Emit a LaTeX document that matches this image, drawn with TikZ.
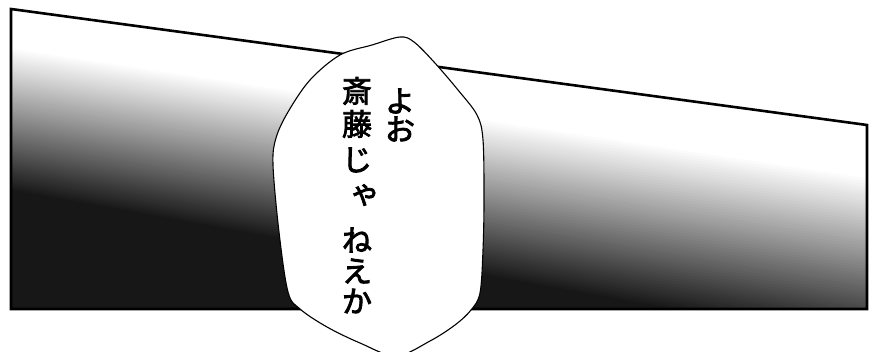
\documentclass[tikz,border=0pt]{standalone}
\usepackage{fontspec}
\newfontfamily\jpfont{Noto Sans CJK JP}
\newcommand\heavy[1]{\special{pdf:code q 2 Tr 0.8 w}#1\special{pdf:code Q}}
\usetikzlibrary{calc}
\tikzset{>=stealth}

\begin{document}
\begin{tikzpicture}[x=1pt,y=-1pt,
      frame/.style={draw, line width=2.6pt, line join=miter},
      balloon/.style={draw, line width=1.1pt, fill=white, line join=round},
      word/.style={font=\jpfont\fontsize{30}{30}\selectfont, inner sep=0pt}]
    \useasboundingbox (0,0) rectangle (877,352);
    \coordinate (TL) at (11,9);
    \coordinate (TR) at (867,125);
    \coordinate (BR) at (867,309);
    \coordinate (BL) at (11,309);
    %% gradient inside the panel
    \begin{scope}
      \clip (TL) -- (TR) -- (BR) -- (BL) -- cycle;
      \fill [white] (0,0) rectangle (877,352);
      \foreach \i in {0,...,59} {
        \pgfmathsetmacro{\ya}{45+145*\i/60}
        \pgfmathsetmacro{\yb}{177+171*\i/60}
        \pgfmathsetmacro{\shade}{91*\i/59}
        \fill [black!\shade] (0,\ya) -- (877,\yb) -- (877,\yb+4) -- (0,\ya+3.5) -- cycle;
      }
      \fill [black!91] (0,190) -- (877,348) -- (877,352) -- (0,352) -- cycle;
    \end{scope}
    \draw [frame] (TL) -- (TR) -- (BR) -- (BL) -- cycle;
    %% speech balloon
    \draw [balloon] plot [smooth cycle, tension=0.55] coordinates {
      (400,37) (414,42) (434,62) (458,90) (477,115) (483,140) (484,200)
      (483,250) (480,293) (471,310) (455,325) (430,341) (396,356)
      (360,343) (327,327) (300,309) (288,292) (279,232) (273,165)
      (276,138) (288,112) (310,80) (340,55) (372,45)};
    %% text, right column first
    \node [word] (yo) at (400,101) {\heavy{よ}};
    \node [word] (o) at (400,129) {\heavy{お}};
    \foreach \ch/\xx/\yy [count=\n] in {斎/357/91, 藤/357/124, じ/357/160, ゃ/365/195,
                                       ね/357/240, え/357/271, か/357/301}
      \node [word] (c\n) at (\xx,\yy) {\heavy{\ch}};
  \end{tikzpicture}
\end{document}
